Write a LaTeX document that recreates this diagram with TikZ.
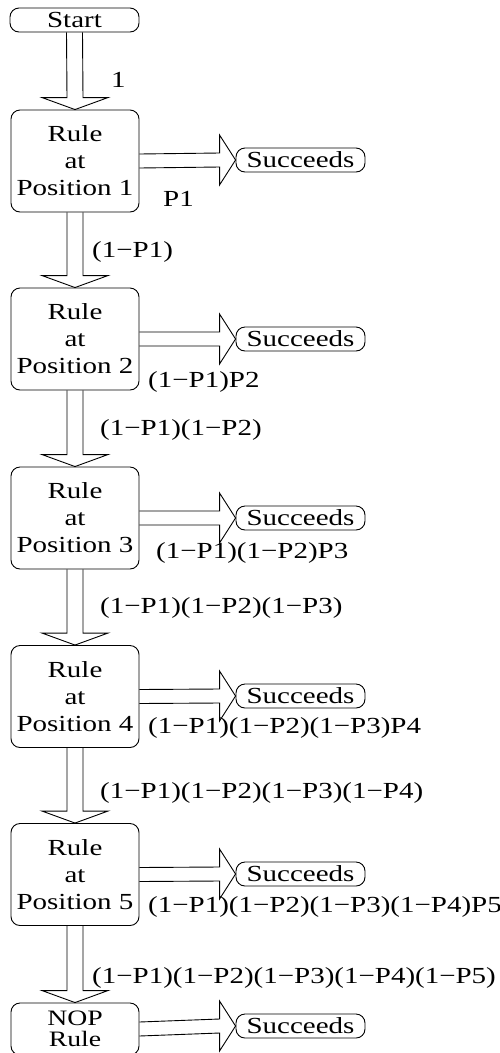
\documentclass[tikz,border=0pt]{standalone}
\usepackage{fontspec}
\setmainfont{Liberation Serif}[FakeStretch=1.26]
\usetikzlibrary{calc}
\newcommand\rblk[2]{\draw[blk] ($(#1.east)+(0,-7)$) -- ($(#2.west)+(-16,-7)$) -- ($(#2.west)+(-16,-25)$) -- (#2.west) -- ($(#2.west)+(-16,25)$) -- ($(#2.west)+(-16,7)$) -- ($(#1.east)+(0,7)$);}
\newcommand\dblk[2]{\draw[blk] ($(#1.south)+(-8,0)$) -- ($(#2.north)+(-8,-12)$) -- ($(#2.north)+(-33,-12)$) -- (#2.north) -- ($(#2.north)+(33,-12)$) -- ($(#2.north)+(8,-12)$) -- ($(#1.south)+(8,0)$);}
\begin{document}
\begin{tikzpicture}[x=1pt,y=-1pt,
  every node/.style={font=\fontsize{23}{27}\selectfont},
  rulebox/.style={draw, line width=0.9pt, rounded corners=9, minimum width=128, minimum height=102, align=center, inner sep=0},
  pill/.style={draw, line width=0.9pt, rounded corners=9, minimum width=129, minimum height=24, inner sep=0},
  lbl/.style={anchor=west, inner sep=0},
  blk/.style={draw, line width=0.9pt, line join=miter}]
\useasboundingbox (0,0) rectangle (500,1053);
\node[pill] (start) at (74.5,20) {Start};
\node[rulebox] (r1) at (75,161) {Rule\\at\\Position 1};
\node[rulebox] (r2) at (75,339) {Rule\\at\\Position 2};
\node[rulebox] (r3) at (75,518) {Rule\\at\\Position 3};
\node[rulebox] (r4) at (75,696.5) {Rule\\at\\Position 4};
\node[rulebox] (r5) at (75,874.5) {Rule\\at\\Position 5};
\node[rulebox, minimum height=52, font=\fontsize{22}{21}\selectfont] (nop) at (75,1029) {NOP\\Rule};
\node[pill] (s1) at (300.5,160) {Succeeds};
\node[pill] (s2) at (300.5,339) {Succeeds};
\node[pill] (s3) at (300.5,518) {Succeeds};
\node[pill] (s4) at (300.5,696) {Succeeds};
\node[pill] (s5) at (300.5,874) {Succeeds};
\node[pill] (s6) at (300.5,1026) {Succeeds};
\dblk{start}{r1}
\dblk{r1}{r2}
\dblk{r2}{r3}
\dblk{r3}{r4}
\dblk{r4}{r5}
\dblk{r5}{nop}
\rblk{r1}{s1}
\rblk{r2}{s2}
\rblk{r3}{s3}
\rblk{r4}{s4}
\rblk{r5}{s5}
\rblk{nop}{s6}
\node[lbl] (d0) at (111,80) {1};
\node[lbl] (d1) at (92,252) {(1−P1)};
\node[lbl] (d2) at (100,430) {(1−P1)(1−P2)};
\node[lbl] (d3) at (100,608) {(1−P1)(1−P2)(1−P3)};
\node[lbl] (d4) at (100,793) {(1−P1)(1−P2)(1−P3)(1−P4)};
\node[lbl] (d5) at (92,978) {(1−P1)(1−P2)(1−P3)(1−P4)(1−P5)};
\node[lbl] (p1) at (163,199) {P1};
\node[lbl] (p2) at (148,382) {(1−P1)P2};
\node[lbl] (p3) at (156,553) {(1−P1)(1−P2)P3};
\node[lbl] (p4) at (148,728) {(1−P1)(1−P2)(1−P3)P4};
\node[lbl] (p5) at (148,907) {(1−P1)(1−P2)(1−P3)(1−P4)P5};
\end{tikzpicture}
\end{document}
